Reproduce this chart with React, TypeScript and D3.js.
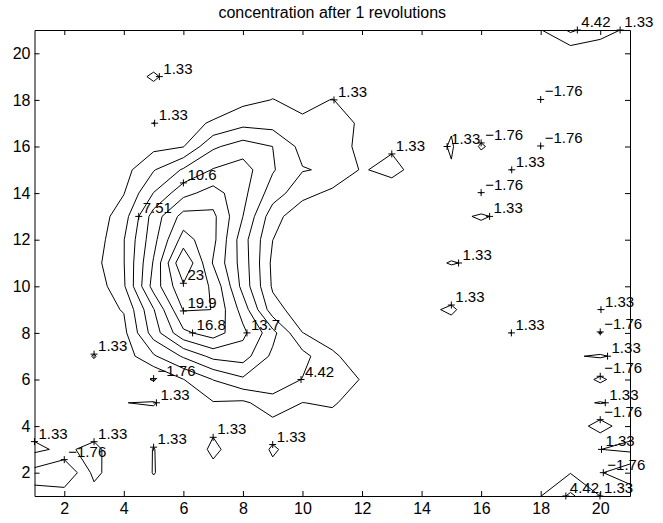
import React, { useRef, useEffect } from "react";
import * as d3 from "d3";

const title = "concentration after 1 revolutions";

// grid columns x = 1..21, rows y = 21..1 (top row first, as in the picture)
const gridX = [1, 2, 3, 4, 5, 6, 7, 8, 9, 10, 11, 12, 13, 14, 15, 16, 17, 18, 19, 20, 21];
const gridY = [21, 20, 19, 18, 17, 16, 15, 14, 13, 12, 11, 10, 9, 8, 7, 6, 5, 4, 3, 2, 1];

const y21 = [0.2, -0.3, 0.4, 0.1, -0.2, 0.3, 0.0, 0.5, -0.1, 0.2, 0.4, -0.3, 0.1, 0.3, -0.2, 0.0, 0.4, 1.2, 5.0, 2.5, 0.75];
const y20 = [-0.1, 0.3, 0.0, 0.4, 0.2, 0.9, -0.3, 0.1, 0.3, -0.2, 0.0, 0.5, -0.4, 0.2, 0.1, -0.3, 0.3, 0.2, -0.5, -0.4, 0.3];
const y19 = [0.3, 0.0, -0.2, 0.4, 1.6, 0.2, 0.1, -0.3, 0.0, 0.3, -0.5, 0.1, 0.4, -0.2, 0.2, 0.0, -0.4, 0.3, 0.1, 0.5, -0.1];
const y18 = [0.1, 0.4, 0.2, 0.1, 0.3, 0.0, -0.2, 0.5, 1.4, 0.6, 1.4, 0.2, -0.1, 0.3, 0.0, 0.4, 0.2, -1.8, 0.3, -0.2, 0.1];
const y17 = [-0.2, 0.1, 0.5, 0.2, 1.36, 0.5, 1.6, 3.5, 3.2, 1.8, 4.3, 0.3, 0.2, -0.3, 1.0, 0.1, 0.3, 0.0, 0.4, 0.2, -0.1];
const y16 = [0.3, 0.0, 0.1, -0.3, 0.5, 1.2, 7.0, 9.0, 7.5, 3.4, 3.9, 0.0, 0.78, -0.3, 1.6, -2.1, 0.2, -1.8, 0.1, 0.3, 0.0];
const y15 = [0.1, -0.2, -0.4, 0.2, 4.2, 7.9, 10.8, 12.0, 7.8, 4.6, 4.0, 1.0, 2.5, -0.4, 1.1, 0.2, 1.36, 0.3, -0.1, 0.2, 0.4];
const y14 = [0.4, 0.2, -0.3, 1.2, 7.6, 12.7, 15.0, 11.5, 6.0, 2.4, 0.62, -0.2, -0.9, 0.1, 0.3, -1.8, 0.2, 0.5, 0.0, -0.3, 0.2];
const y13 = [-0.1, 0.3, -0.6, 3.0, 12.0, 17.95, 17.5, 10.6, 2.6, -0.9, 0.3, 0.6, -0.1, 0.2, 0.5, 1.7, 0.4, 0.1, 0.3, -0.2, 0.4];
const y12 = [0.2, 0.0, -0.5, 4.3, 12.7, 21.2, 17.6, 8.8, 1.35, -0.3, 0.2, 0.5, 0.1, -0.2, -0.3, -0.5, 0.2, 0.4, 0.0, 0.3, -0.2];
const y11 = [0.0, 0.4, 0.3, 4.3, 14.0, 26.05, 16.5, 9.2, 0.6, -0.2, 0.1, -0.4, 0.3, 0.4, 1.5, 0.8, 0.0, 0.2, 0.4, -0.1, 0.3];
const y10 = [0.3, -0.2, -0.8, 4.0, 15.0, 22.5, 19.4, 9.5, 0.9, -0.5, 0.3, -0.2, 0.1, 0.4, -0.6, 0.2, 0.3, -0.1, 0.5, 0.2, 0.0];
const y9 = [0.1, 0.4, 0.2, 1.5, 10.4, 20.1, 19.85, 12.4, 2.6, -0.45, 0.2, 0.6, -0.3, 0.5, 1.8, -0.8, 0.1, 0.3, -0.2, 1.36, 0.2];
const y8 = [-0.3, 0.2, 0.1, 0.5, 9.0, 16.1, 18.3, 14.5, 8.5, 1.36, 0.4, -0.3, 0.2, 0.0, -0.2, 0.3, 1.35, 0.1, 0.4, -1.9, 0.2];
const y7 = [0.2, 0.0, 1.45, -0.3, 4.0, 7.9, 11.5, 12.0, 6.8, 5.5, 1.67, 0.3, -0.1, 0.4, 0.2, -0.3, 0.1, 0.3, 1.1, 1.6, 0.5];
const y6 = [0.4, -0.1, 0.3, 0.0, -2.0, 1.25, 4.5, 7.0, 6.74, 4.3, 2.05, 1.25, 0.2, -0.3, 0.1, 0.4, -0.2, 0.0, 0.2, -2.3, 0.2];
const y5 = [0.0, 0.3, -0.2, 1.3, 1.5, -0.3, 1.15, 0.77, 3.0, 1.3, 1.6, 0.2, 0.4, 0.1, -0.3, 0.2, 0.5, -0.1, 0.6, 1.5, 0.5];
const y4 = [0.0, 0.4, -0.8, 0.3, 0.2, -0.4, 0.71, 0.5, 0.3, 0.4, 0.3, -0.2, 0.1, 0.3, 0.0, -0.4, 0.2, 0.3, 0.1, -3.0, 0.1];
const y3 = [2.0, 0.66, 2.38, -1.6, 1.45, -1.35, 2.0, -0.5, 1.6, 0.25, 0.1, 0.3, -0.2, 0.4, 0.2, 0.0, 0.3, -0.1, 0.2, 1.3, 2.0];
const y2 = [-2.8, -4.85, 2.17, -1.06, 1.45, -0.5, 0.37, 0.2, 0.76, 0.1, 0.3, -0.2, 0.4, 0.0, 0.2, 0.3, -0.1, 0.5, 1.22, -1.5, -4.0];
const y1 = [-0.84, 0.05, 0.02, 0.3, 0.25, -0.2, 0.1, 0.4, 0.0, 0.3, -0.1, 0.2, 0.4, -0.2, 0.1, 0.3, 0.0, 1.25, 5.0, 1.3, 0.5];

const rows = [y21, y20, y19, y18, y17, y16, y15, y14, y13, y12, y11, y10, y9, y8, y7, y6, y5, y4, y3, y2, y1];

const levels = [-1.76, 1.33, 4.42, 7.51, 10.6, 13.69, 16.78, 19.87, 22.96];
const levelText = ["\u22121.76", "1.33", "4.42", "7.51", "10.6", "13.7", "16.8", "19.9", "23"];

const xTicks = [2, 4, 6, 8, 10, 12, 14, 16, 18, 20];
const yTicks = [2, 4, 6, 8, 10, 12, 14, 16, 18, 20];

const W = 663, H = 523;
const font = "'Liberation Sans', Arial, Helvetica, sans-serif";
const fs = 15;
// side of each contour line on which its label sits (dx, dy in data units)
const labelSide = [[0.3, 1], [1, 1], [1, -1], [-1, 0.2], [-1, 1], [1, 0], [-0.5, -1], [-1, -0.5], [-1, -1]];

export default function App() {
  const svgRef = useRef<SVGSVGElement>(null);

  useEffect(() => {
    const svg = d3.select(svgRef.current);
    svg.selectAll("*").remove();

    const x = d3.scaleLinear().domain([1, 21]).range([34.5, 630]);
    const y = d3.scaleLinear().domain([1, 21]).range([496, 30]);

    const nx = gridX.length, ny = gridY.length;
    const values = rows.flat();
    const cs = d3.contours().size([nx, ny]).thresholds(levels)(values);

    // grid cell centres sit at +0.5 in contour space
    const toX = (cx: number) => gridX[0] - 0.5 + cx;
    const toY = (cy: number) => gridY[0] + 0.5 - cy;
    const path = d3.geoPath(d3.geoTransform({
      point(px: number, py: number) { (this as any).stream.point(x(toX(px)), y(toY(py))); }
    }));

    svg.append("rect").attr("width", W).attr("height", H).attr("fill", "#fff");

    svg.append("clipPath").attr("id", "plot-clip")
      .append("rect").attr("x", x(1)).attr("y", y(21)).attr("width", x(21) - x(1)).attr("height", y(1) - y(21));

    svg.append("g").attr("clip-path", "url(#plot-clip)")
      .selectAll("path").data(cs).join("path")
      .attr("d", path as any)
      .attr("fill", "none").attr("stroke", "#000").attr("stroke-width", 1);

    // axes: box with inward ticks on all sides
    const fmt = d3.format("d");
    const gB = svg.append("g").attr("transform", `translate(0,${y(1)})`)
      .call(d3.axisBottom(x).tickValues(xTicks).tickFormat(fmt as any).tickSize(-5).tickSizeOuter(0).tickPadding(7));
    const gT = svg.append("g").attr("transform", `translate(0,${y(21)})`)
      .call(d3.axisTop(x).tickValues(xTicks).tickFormat(() => "").tickSize(-5).tickSizeOuter(0));
    const gL = svg.append("g").attr("transform", `translate(${x(1)},0)`)
      .call(d3.axisLeft(y).tickValues(yTicks).tickFormat(fmt as any).tickSize(-5).tickSizeOuter(0).tickPadding(4));
    const gR = svg.append("g").attr("transform", `translate(${x(21)},0)`)
      .call(d3.axisRight(y).tickValues(yTicks).tickFormat(() => "").tickSize(-5).tickSizeOuter(0));
    [gB, gT, gL, gR].forEach(g => {
      g.selectAll("path.domain").attr("stroke", "#000").attr("stroke-width", 1);
      g.selectAll(".tick line").attr("stroke", "#000");
      g.selectAll(".tick text").attr("font-size", 16).attr("font-family", font).attr("fill", "#000");
    });

    // clabel style: "+" marker and level text on every visible piece of line
    const inside = (p: number[]) => p[0] >= 1 && p[0] <= 21 && p[1] >= 1 && p[1] <= 21;
    const pieces: { pts: number[][]; i: number }[] = [];
    cs.forEach((c, i) => {
      c.coordinates.forEach(poly => poly.forEach(ring => {
        const pts = ring.slice(0, -1).map(p => [toX(p[0]), toY(p[1])]);
        const start = pts.findIndex(p => !inside(p));
        if (start < 0) { pieces.push({ pts, i }); return; }
        let run: number[][] = [];
        for (let k = 1; k <= pts.length; k++) {
          const p = pts[(start + k) % pts.length];
          if (inside(p)) run.push(p);
          else { if (run.length > 1) pieces.push({ pts: run, i }); run = []; }
        }
      }));
    });

    const boxes: number[][] = [];
    const fits = (b: number[]) => b[2] <= W - 1 && b[1] >= 0 &&
      !boxes.some(o => b[0] < o[2] && b[2] > o[0] && b[1] < o[3] && b[3] > o[1]);
    const boxOf = (px: number, py: number, t: string) =>
      [px + 4, py - 3 - fs * 0.72, px + 4 + t.length * fs * 0.53, py - 3];
    const labels: { px: number; py: number; t: string }[] = [];
    pieces.forEach(({ pts, i }) => {
      const [dx, dy] = labelSide[i];
      const t = levelText[i];
      const order = pts.slice().sort((a, b) => (b[0] * dx + b[1] * dy) - (a[0] * dx + a[1] * dy));
      const pick = order.find(p => fits(boxOf(x(p[0]), y(p[1]), t))) ||
        order.slice().sort((a, b) => a[0] - b[0])[0];
      const px = x(pick[0]), py = y(pick[1]);
      boxes.push(boxOf(px, py, t));
      labels.push({ px, py, t });
    });

    const gl = svg.append("g");
    gl.selectAll("path").data(labels).join("path")
      .attr("d", d => `M${d.px - 3.5},${d.py}h7M${d.px},${d.py - 3.5}v7`)
      .attr("stroke", "#000").attr("stroke-width", 1);
    gl.selectAll("text").data(labels).join("text")
      .attr("x", d => Math.min(d.px + 4, W - 2 - d.t.length * fs * 0.53)).attr("y", d => d.py - 3)
      .attr("font-size", fs).attr("font-family", font)
      .text(d => d.t);

    svg.append("text")
      .attr("x", (x(1) + x(21)) / 2).attr("y", 18)
      .attr("text-anchor", "middle")
      .attr("font-size", 16).attr("font-family", font)
      .text(title);
  }, []);

  return (
    <svg ref={svgRef} width={W} height={H}
      style={{ position: "absolute", left: 0, top: 0, display: "block" }} />
  );
}
